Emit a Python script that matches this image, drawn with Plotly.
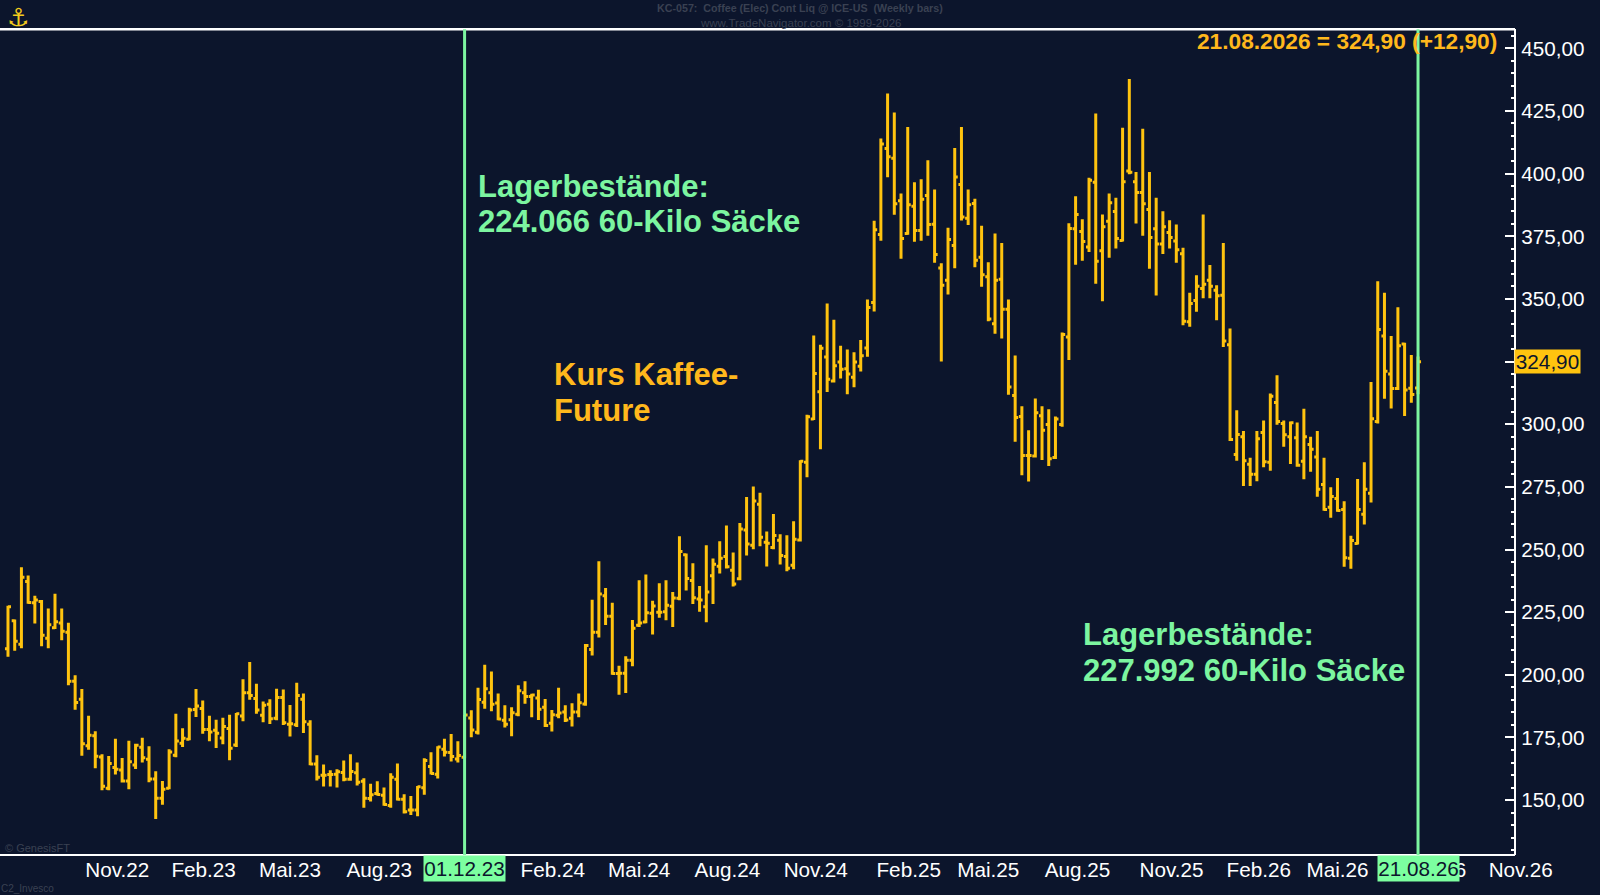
import pandas as pd
import plotly.graph_objects as go

# weekly coffee future bars
opens = [
    210.4,221.6,212.2,237.2,228.8,229.3,214.6,218.8,220.7,217.0,
    197.4,190.2,171.7,175.7,167.2,154.7,163.0,162.0,157.6,164.0,
    171.1,166.3,158.4,150.7,154.7,167.9,172.7,174.3,186.2,186.6,
    178.2,177.9,174.8,178.6,172.0,183.6,192.8,190.5,183.9,188.3,
    182.7,190.9,180.3,180.1,190.2,180.3,164.4,159.9,160.2,160.3,
    161.0,158.3,160.9,157.5,150.6,152.6,151.9,147.9,158.3,150.3,
    146.1,146.1,154.9,163.4,160.3,170.3,169.0,166.4,167.1,182.8,
    177.1,189.1,192.8,188.8,181.9,182.1,184.3,192.8,191.3,190.7,
    187.1,180.7,183.9,185.2,182.7,185.2,188.4,210.1,217.0,231.5,
    223.4,200.5,200.6,205.8,219.8,221.1,224.6,225.0,225.2,227.4,
    230.6,247.9,237.6,230.3,227.2,239.5,243.3,247.2,241.7,238.3,
    257.8,251.7,268.1,252.9,250.8,253.7,247.2,243.7,253.8,284.8,
    302.1,313.0,326.8,317.2,324.8,322.1,318.7,323.1,330.4,348.6,
    375.7,410.0,406.1,389.2,376.1,387.0,377.3,391.3,379.8,362.3,
    357.4,371.3,395.7,382.2,388.1,366.6,358.8,340.1,357.8,345.9,
    311.5,303.1,287.5,287.3,303.4,299.9,286.7,299.9,334.8,378.0,
    376.9,370.7,396.5,369.2,381.0,384.9,373.3,401.0,396.7,392.5,
    385.7,378.0,371.9,376.5,373.1,368.0,340.9,349.4,354.2,357.4,
    353.5,351.5,331.7,287.9,295.0,284.0,280.0,296.7,284.8,308.7,
    300.3,295.0,294.6,285.2,291.9,286.9,275.9,266.9,270.4,266.0,
    246.5,252.4,264.1,272.4,301.1,335.2,320.0,314.2,332.0,314.3,
    314.4,
]
highs = [
    227.6,222.1,242.9,239.6,231.5,229.9,226.5,232.3,226.5,220.8,
    199.8,194.3,183.7,177.5,168.3,167.6,174.5,166.8,173.7,172.5,
    174.9,171.5,161.5,157.6,170.3,184.5,178.7,186.9,194.3,189.8,
    183.7,182.1,182.9,184.1,184.8,198.2,205.1,196.4,189.4,190.2,
    194.4,194.1,188.0,196.8,192.5,181.9,167.9,164.2,161.9,162.3,
    165.8,168.3,165.0,158.7,156.5,157.5,155.0,160.7,164.6,152.3,
    151.6,155.6,166.7,169.1,171.5,174.5,176.4,173.5,184.0,185.9,
    194.8,204.0,201.3,192.5,187.9,187.1,195.8,197.4,192.4,194.0,
    190.3,186.0,194.8,187.9,188.7,192.5,212.3,230.0,245.3,234.6,
    228.8,203.6,207.4,221.9,237.7,240.0,229.6,236.5,237.7,233.0,
    255.3,248.4,244.5,235.4,251.7,246.4,253.3,259.6,248.8,260.6,
    271.0,275.1,272.6,257.2,264.2,256.1,255.7,261.3,285.6,303.8,
    335.4,331.7,348.2,341.7,331.3,329.8,328.7,333.6,349.8,381.2,
    414.0,432.0,424.4,392.1,418.6,396.5,397.7,405.3,393.7,364.2,
    378.4,410.2,418.6,393.7,390.0,379.2,364.6,376.1,372.3,349.8,
    327.4,307.2,297.6,310.3,307.2,306.0,303.1,336.6,380.2,391.0,
    381.8,398.3,424.0,383.7,392.1,390.4,418.3,437.7,400.6,417.9,
    400.6,390.4,385.0,381.4,379.7,370.4,352.5,359.4,383.7,363.5,
    355.4,372.3,338.2,305.6,297.3,286.6,297.3,301.5,312.3,319.5,
    301.5,301.1,300.7,306.2,295.0,297.3,286.6,274.8,278.5,269.3,
    255.5,278.1,284.8,316.8,357.0,352.5,335.2,346.7,332.5,327.6,
    327.0,
]
lows = [
    207.2,209.6,210.6,228.4,220.5,211.4,210.6,218.3,213.8,195.8,
    186.1,167.7,170.1,162.7,153.9,153.9,160.2,157.0,154.3,162.4,
    165.0,157.1,142.5,148.2,154.3,167.1,171.2,173.9,183.2,176.5,
    173.5,170.8,172.3,165.9,171.2,181.5,190.0,184.5,181.1,180.4,
    181.9,180.0,175.4,179.2,176.8,163.9,157.8,155.4,155.4,155.0,
    157.5,157.7,155.8,147.0,149.4,151.8,147.8,147.0,149.8,144.7,
    144.1,143.6,152.1,160.2,158.6,167.4,165.4,165.0,166.7,175.1,
    176.2,186.5,185.5,181.9,179.0,175.5,183.5,188.5,183.1,182.0,
    179.2,177.4,182.7,181.2,179.4,183.1,187.7,207.7,214.9,219.9,
    200.0,192.0,192.7,203.4,219.1,220.6,216.1,222.8,221.8,219.1,
    229.8,233.6,228.3,225.2,221.0,228.3,240.4,242.4,235.2,237.7,
    247.6,250.1,251.3,243.2,250.1,244.0,241.3,242.1,253.2,278.8,
    301.7,290.0,312.9,316.6,318.2,312.0,314.7,321.0,326.9,345.0,
    373.2,398.5,383.6,366.0,375.6,372.8,373.2,375.2,364.4,325.0,
    351.8,362.2,381.3,379.5,362.6,354.8,341.1,336.1,334.2,311.8,
    293.0,279.6,277.1,286.7,285.7,283.3,286.1,299.0,325.6,363.6,
    365.2,368.7,356.0,349.1,366.4,370.1,372.9,399.7,380.1,375.2,
    362.0,351.4,367.9,370.1,364.4,339.5,338.9,344.9,350.3,350.3,
    341.5,330.8,293.3,285.4,275.3,275.3,277.2,282.8,281.4,299.8,
    291.0,284.1,283.0,278.0,281.0,271.1,265.5,262.7,265.1,243.1,
    242.3,252.0,260.0,268.8,300.3,310.2,306.3,313.6,303.3,308.6,
    312.0,
]
closes = [
    227.2,213.4,238.9,228.9,229.9,215.8,220.0,221.2,217.4,197.4,
    189.0,172.5,175.9,167.5,155.5,164.6,162.3,157.6,165.3,171.9,
    166.9,158.4,150.7,154.3,169.2,173.6,174.7,186.0,187.6,178.2,
    177.2,176.7,179.4,170.7,184.5,192.8,191.7,186.0,187.9,182.5,
    190.9,180.9,180.5,191.7,181.3,164.4,159.1,159.9,160.2,161.3,
    158.3,161.4,157.1,150.7,152.1,152.2,148.3,159.1,150.3,145.4,
    146.1,155.3,165.8,160.6,171.2,169.1,167.4,167.8,184.0,178.0,
    190.1,194.4,188.3,182.4,180.3,184.9,193.6,191.3,191.9,186.3,
    179.8,184.1,184.8,182.0,185.2,188.9,211.7,217.0,232.2,223.4,
    200.5,200.6,205.8,218.6,220.7,224.8,227.5,225.0,227.8,230.7,
    249.2,238.4,230.8,229.9,233.0,244.1,246.5,243.1,236.2,258.2,
    252.2,269.4,254.9,252.5,255.6,247.6,242.5,254.1,285.2,303.0,
    320.2,330.3,317.9,323.3,321.9,320.0,324.8,327.3,346.6,377.6,
    411.8,406.7,388.0,374.1,387.6,377.3,389.8,379.7,367.7,355.4,
    373.7,398.6,382.7,387.6,365.4,359.6,342.0,357.4,345.9,314.8,
    302.7,287.5,287.5,304.6,297.6,286.2,302.1,335.8,378.1,383.7,
    372.9,397.3,365.0,378.8,388.4,374.1,396.7,400.5,392.5,388.0,
    374.5,371.9,378.8,374.5,369.6,341.1,348.2,355.0,355.8,355.0,
    351.3,333.2,293.9,295.9,285.4,280.0,294.2,285.0,311.2,301.1,
    295.8,300.6,283.6,295.0,290.0,274.0,266.0,271.2,265.6,246.7,
    253.6,266.0,274.0,302.2,337.8,321.1,314.2,331.3,313.6,311.9,
    324.9,
]

tick_dates = ["2022-12-04", "2023-03-04", "2023-06-02", "2023-09-03", "2024-03-02", "2024-05-31",
              "2024-08-31", "2024-12-01", "2025-03-08", "2025-05-30", "2025-08-31", "2025-12-07",
              "2026-03-08", "2026-05-29", "2026-09-06", "2026-12-06"]
tick_labels = ["Nov.22", "Feb.23", "Mai.23", "Aug.23", "Feb.24", "Mai.24",
               "Aug.24", "Nov.24", "Feb.25", "Mai.25", "Aug.25", "Nov.25",
               "Feb.26", "Mai.26", "Aug.26", "Nov.26"]

price_ticks = [150, 175, 200, 225, 250, 275, 300, 325, 350, 375, 400, 425, 450]
price_labels = ["150,00", "175,00", "200,00", "225,00", "250,00", "275,00", "300,00", "",
                "350,00", "375,00", "400,00", "425,00", "450,00"]

marker_dates = ["2023-12-01", "2026-08-21"]
marker_labels = ["01.12.23", "21.08.26"]

BG = "#0C152C"
GOLD = "#FFC30F"
TEXT_GOLD = "#FFB81C"
GREEN = "#7CF5A0"
DIM = "#3A4152"
LABEL_SIZE = 20.7
WIDTH, HEIGHT = 1600, 895

dates = pd.date_range(end="2026-08-21", periods=len(closes), freq="7D")


def fx(px):
    return px / WIDTH


def fy(px):
    return (HEIGHT - px) / HEIGHT


fig = go.Figure(go.Ohlc(
    x=dates, open=opens, high=highs, low=lows, close=closes,
    increasing_line_color=GOLD, decreasing_line_color=GOLD,
    increasing_line_width=3, decreasing_line_width=3,
    tickwidth=0.45, showlegend=False,
))

fig.update_layout(
    width=WIDTH, height=HEIGHT, autosize=False,
    margin=dict(l=0, r=0, t=0, b=0),
    paper_bgcolor=BG, plot_bgcolor=BG,
    font=dict(family="Liberation Sans", color="white", size=LABEL_SIZE),
    showlegend=False,
    xaxis=dict(
        domain=[0, 1], range=["2022-08-03 16:00", "2027-02-26 17:00"],
        rangeslider_visible=False, showgrid=False, zeroline=False, showline=False,
        tickmode="array", tickvals=tick_dates, ticktext=tick_labels, ticks="",
        tickangle=0, tickfont=dict(size=LABEL_SIZE, color="white"),
    ),
    yaxis=dict(
        domain=[fy(855), fy(29.3)], range=[128.1, 457.58],
        anchor="free", position=fx(1515), side="right",
        showgrid=False, zeroline=False, showline=True, linecolor="white", linewidth=2,
        tickmode="array", tickvals=price_ticks, ticktext=price_labels,
        ticks="inside", ticklen=9, tickwidth=1.5,
        tickcolor="white", ticklabelstandoff=1,
        minor=dict(dtick=5, tick0=0, ticks="inside", ticklen=3, tickwidth=1.5, tickcolor="white"),
        tickfont=dict(size=LABEL_SIZE, color="white"),
    ),
)

# frame
fig.add_shape(type="line", xref="paper", yref="paper", x0=0, x1=fx(1515), y0=fy(29.3), y1=fy(29.3),
              line=dict(color="white", width=2.5))
fig.add_shape(type="line", xref="paper", yref="paper", x0=0, x1=fx(1515), y0=fy(855), y1=fy(855),
              line=dict(color="white", width=2))

# the two stock dates
for d, lab in zip(marker_dates, marker_labels):
    fig.add_shape(type="line", xref="x", yref="paper", x0=d, x1=d, y0=fy(855), y1=fy(29.3),
                  line=dict(color=GREEN, width=3))
    fig.add_annotation(x=d, xref="x", y=fy(868.5), yref="paper", text=lab, showarrow=False,
                       font=dict(size=LABEL_SIZE, color=BG), bgcolor="#7CFFA0", borderpad=0,
                       width=81, height=25, xanchor="center", yanchor="middle")


def note(px, py, text, color, size=31, bold=True, family="Liberation Sans", anchor="left"):
    if bold:
        text = "<b>" + text + "</b>"
    fig.add_annotation(x=fx(px), y=fy(py), xref="paper", yref="paper", text=text, showarrow=False,
                       xanchor=anchor, yanchor="middle", align=anchor,
                       font=dict(size=size, color=color, family=family), borderpad=0, borderwidth=0)


note(478, 186.7, "Lagerbestände:", GREEN)
note(478, 221.5, "224.066 60-Kilo Säcke", GREEN)
note(1082.5, 634.7, "Lagerbestände:", GREEN)
note(1082.5, 670.4, "227.992 60-Kilo Säcke", GREEN)
note(554, 375, "Kurs Kaffee-", TEXT_GOLD)
note(554, 410.2, "Future", TEXT_GOLD)
note(1497, 41, "21.08.2026 = 324,90 (+12,90)", TEXT_GOLD, size=22.7, anchor="right")

# dim small print
note(800, 8, "KC-057:  Coffee (Elec) Cont Liq @ ICE-US  (Weekly bars)", DIM, size=10.7, anchor="center")
note(800, 23, "www.TradeNavigator.com © 1999-2026", DIM, size=11.5, bold=False, anchor="center")
note(5, 848, "© GenesisFT", DIM, size=11, bold=False)
note(1, 888, "C2_Invesco", DIM, size=10, bold=False)

# logo stand-in
note(18, 17, "⚓", "#F2CB1D", size=25, bold=True, family="DejaVu Sans", anchor="center")

# last price tag on the axis
fig.add_annotation(x=fx(1547.5), y=324.9, xref="paper", yref="y", text="324,90", showarrow=False,
                   xanchor="center", yanchor="middle", width=65, height=23, bgcolor=GOLD,
                   font=dict(size=LABEL_SIZE, color=BG), borderpad=0)

fig.write_html("out.html", config={"displayModeBar": False},
               post_script="document.body.style.margin='0';document.documentElement.style.overflow='hidden';")
